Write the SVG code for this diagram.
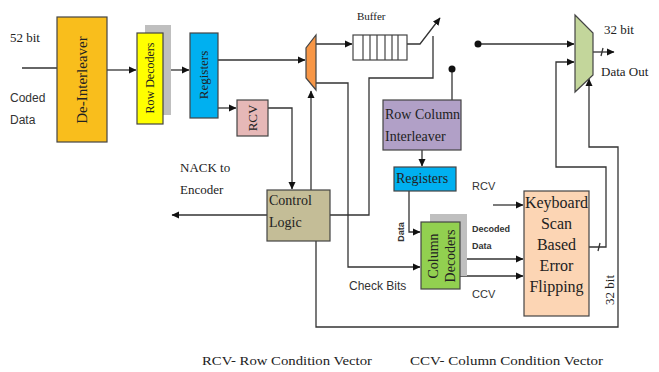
<svg xmlns="http://www.w3.org/2000/svg" width="659" height="372" viewBox="0 0 659 372">
<defs>
<marker id="ah" markerWidth="8" markerHeight="8" refX="7" refY="4" orient="auto" markerUnits="userSpaceOnUse"><path d="M0,0.5 L7.5,4 L0,7.5 Z" fill="#111"/></marker>
<style>
.w{fill:none;stroke:#333;stroke-width:1.3}
.b{stroke:#444;stroke-width:1.2}
.s{font-family:"Liberation Serif",serif;fill:#222}
.a{font-family:"Liberation Sans",sans-serif;fill:#333}
</style>
</defs>
<rect width="659" height="372" fill="#fff"/>
<g id="connectors">
<path class="w" d="M22,68 H57"/>
<path class="w" d="M107,70 H136" marker-end="url(#ah)"/>
<path class="w" d="M163,70 H189" marker-end="url(#ah)"/>
<path class="w" d="M218,60 H305" marker-end="url(#ah)"/>
<path class="w" d="M218,108 H236" marker-end="url(#ah)"/>
<path class="w" d="M316,44 H352" marker-end="url(#ah)"/>
<path class="w" d="M407,44 H420 L440,18" marker-end="url(#ah)"/>
<path class="w" d="M330,215 H369 V78 H433 V36"/>
<path class="w" d="M268,108 H292 V189" marker-end="url(#ah)"/>
<path class="w" d="M311,190 V91" marker-end="url(#ah)"/>
<path class="w" d="M316,83 H348 V267 H420" marker-end="url(#ah)"/>
<path class="w" d="M267,215 H172" marker-end="url(#ah)"/>
<path class="w" d="M316,241 V327 H618 V147 H589 V79" marker-end="url(#ah)"/>
<path class="w" d="M452,69 V100"/>
<circle cx="452" cy="69" r="3.5" fill="#111"/>
<path class="w" d="M422,150 V166" marker-end="url(#ah)"/>
<path class="w" d="M409,191 V232 H420" marker-end="url(#ah)"/>
<path class="w" d="M460,259 H523" marker-end="url(#ah)"/>
<path class="w" d="M460,276 H523" marker-end="url(#ah)"/>
<path class="w" d="M493,205 H523" marker-end="url(#ah)"/>
<path class="w" d="M589,247 H606 V167 H556 V62 H574" marker-end="url(#ah)"/>
<path class="w" d="M598,251 L600,243"/>
<path class="w" d="M478,44 H574" marker-end="url(#ah)"/>
<circle cx="478" cy="44" r="3.5" fill="#111"/>
<path class="w" d="M593,52 H614" marker-end="url(#ah)"/>
<path class="w" d="M601,56 L603,48"/>
</g>
<g id="deinterleaver">
<rect x="57" y="17" width="50" height="125" fill="#F9BE1C" class="b"/>
<text class="s" font-size="15" transform="translate(87,80) rotate(-90)" text-anchor="middle">De-Interleaver</text>
</g>
<g id="rowdecoders">
<rect x="145" y="25" width="26" height="90" fill="#BFBFBF"/>
<rect x="137" y="33" width="26" height="91" fill="#FFFF00" class="b"/>
<text class="s" font-size="12" transform="translate(154,78) rotate(-90)" text-anchor="middle">Row Decoders</text>
</g>
<g id="registers1">
<rect x="190" y="33" width="28" height="85" fill="#00B0F0" class="b"/>
<text class="s" font-size="13" transform="translate(208,75) rotate(-90)" text-anchor="middle">Registers</text>
</g>
<g id="rcv">
<rect x="237" y="100" width="31" height="36" fill="#E6B8B7" class="b"/>
<text class="s" font-size="13" transform="translate(257,118) rotate(-90)" text-anchor="middle">RCV</text>
</g>
<g id="mux1">
<path d="M316,35 V90 L306,78 V48 Z" fill="#F79646" class="b"/>
</g>
<g id="buffer">
<rect x="353" y="35" width="54" height="25" fill="#fff" class="b"/>
<path class="b" d="M363,35 V60 M370,35 V60 M377,35 V60 M385,35 V60 M392,35 V60 M398,35 V60"/>
<text class="s" font-size="11" x="357" y="20">Buffer</text>
</g>
<g id="controllogic">
<rect x="267" y="190" width="63" height="51" fill="#C4BD97" class="b"/>
<text class="s" font-size="14" x="269" y="205">Control</text>
<text class="s" font-size="14" x="269" y="227">Logic</text>
</g>
<g id="rowcolumninterleaver">
<rect x="383" y="100" width="78" height="50" fill="#B1A0C7" class="b"/>
<text class="s" font-size="14" x="385" y="119">Row Column</text>
<text class="s" font-size="14" x="385" y="141">Interleaver</text>
</g>
<g id="registers2">
<rect x="394" y="167" width="62" height="24" fill="#00B0F0" class="b"/>
<text class="s" font-size="14" x="396" y="183">Registers</text>
</g>
<g id="columndecoders">
<rect x="430" y="214" width="37" height="62" fill="#BFBFBF"/>
<rect x="421" y="222" width="39" height="67" fill="#92D050" class="b"/>
<text class="s" font-size="14" transform="translate(438,256) rotate(-90)" text-anchor="middle">Column</text>
<text class="s" font-size="14" transform="translate(455,256) rotate(-90)" text-anchor="middle">Decoders</text>
</g>
<g id="ksbef">
<rect x="524" y="191" width="65" height="125" fill="#FCD5B4" class="b"/>
<text class="s" font-size="16" x="556.5" y="208" text-anchor="middle">Keyboard</text>
<text class="s" font-size="16" x="556.5" y="229" text-anchor="middle">Scan</text>
<text class="s" font-size="16" x="556.5" y="250" text-anchor="middle">Based</text>
<text class="s" font-size="16" x="556.5" y="271" text-anchor="middle">Error</text>
<text class="s" font-size="16" x="556.5" y="292" text-anchor="middle">Flipping</text>
</g>
<g id="mux2">
<path d="M575,15 L593,33 V75 L575,92 Z" fill="#C3D69B" class="b"/>
</g>
<g id="labels">
<text class="s" font-size="13" x="10" y="42">52 bit</text>
<text class="a" font-size="12" x="10" y="102">Coded</text>
<text class="a" font-size="12" x="10" y="124">Data</text>
<text class="s" font-size="13" x="180" y="172">NACK to</text>
<text class="s" font-size="13" x="180" y="194">Encoder</text>
<text class="a" font-size="12" x="349" y="290">Check Bits</text>
<text class="a" font-size="9" font-weight="bold" transform="translate(404,232) rotate(-90)" text-anchor="middle">Data</text>
<text class="a" font-size="11" x="472" y="190">RCV</text>
<text class="a" font-size="9" font-weight="bold" x="472" y="232">Decoded</text>
<text class="a" font-size="9" font-weight="bold" x="472" y="249">Data</text>
<text class="a" font-size="11" x="472" y="298">CCV</text>
<text class="s" font-size="13" transform="translate(614,290) rotate(-90)" text-anchor="middle">32 bit</text>
<text class="s" font-size="13" x="604" y="34">32 bit</text>
<text class="s" font-size="13" x="601" y="76">Data Out</text>
<text class="s" font-size="13.5" x="202" y="365" textLength="170" lengthAdjust="spacingAndGlyphs">RCV- Row Condition Vector</text>
<text class="s" font-size="13.5" x="410" y="365" textLength="193" lengthAdjust="spacingAndGlyphs">CCV- Column Condition Vector</text>
</g>
</svg>
